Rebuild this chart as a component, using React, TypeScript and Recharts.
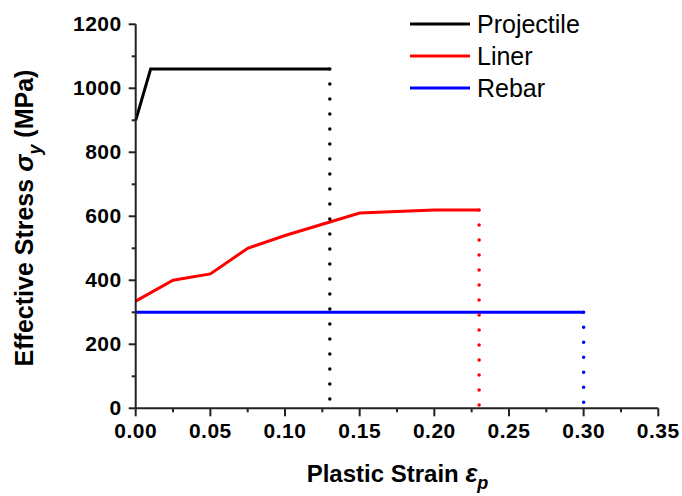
import { LineChart, Line, XAxis, YAxis } from 'recharts';

// ---------------------------------------------------------------------------
// Data
// ---------------------------------------------------------------------------

const projectileStrain = [0, 0.01, 0.13];
const projectileStress = [900, 1060, 1060];

const linerStrain = [0, 0.025, 0.05, 0.075, 0.1, 0.125, 0.15, 0.2, 0.23];
const linerStress = [335, 400, 420, 500, 540, 575, 610, 620, 620];

const rebarStrain = [0, 0.3];
const rebarStress = [300, 300];

// failure strain of each material (dotted drop to zero)
const failureStrain = [0.13, 0.23, 0.3];
const failureStress = [1060, 620, 300];

const seriesNames = ['Projectile', 'Liner', 'Rebar'];
const seriesColors = ['#000000', '#ff0000', '#0000ff'];

const xTicks = [0, 0.025, 0.05, 0.075, 0.1, 0.125, 0.15, 0.175, 0.2, 0.225, 0.25, 0.275, 0.3, 0.325, 0.35];
const yTicks = [0, 100, 200, 300, 400, 500, 600, 700, 800, 900, 1000, 1100, 1200];

const FONT = '"Liberation Sans", Arial, sans-serif';
const AXIS_COLOR = '#222222';

const toPoints = (xs: number[], ys: number[]) => xs.map((x, i) => ({ x, y: ys[i] }));

const solidSeries = [
  toPoints(projectileStrain, projectileStress),
  toPoints(linerStrain, linerStress),
  toPoints(rebarStrain, rebarStress),
];

const dropSeries = failureStrain.map((s, i) => [
  { x: s, y: failureStress[i] },
  { x: s, y: 0 },
]);

// ---------------------------------------------------------------------------
// Ticks with minor marks
// ---------------------------------------------------------------------------

function XTick({ x, y, payload, index }: any) {
  const major = index % 2 === 0;
  return (
    <g>
      <line x1={x} x2={x} y1={y} y2={y + (major ? 8 : 4)} stroke={AXIS_COLOR} strokeWidth={2} />
      {major && (
        <text
          x={x}
          y={y + 30}
          textAnchor="middle"
          fontFamily={FONT}
          fontWeight="bold"
          fontSize={21}
          letterSpacing={0.5}
          fill="#000"
        >
          {Number(payload.value).toFixed(2)}
        </text>
      )}
    </g>
  );
}

function YTick({ x, y, payload }: any) {
  const major = payload.value % 200 === 0;
  return (
    <g>
      <line x1={x - (major ? 7 : 4)} x2={x} y1={y} y2={y} stroke={AXIS_COLOR} strokeWidth={2} />
      {major && (
        <text
          x={x - 14}
          y={y + 7}
          textAnchor="end"
          fontFamily={FONT}
          fontWeight="bold"
          fontSize={21}
          letterSpacing={0.5}
          fill="#000"
        >
          {payload.value}
        </text>
      )}
    </g>
  );
}

function LegendBox() {
  return (
    <div
      style={{
        position: 'absolute',
        top: 8,
        left: 410,
        fontFamily: FONT,
        fontSize: 25,
        color: '#000',
      }}
    >
      {seriesNames.map((name, i) => (
        <div key={name} style={{ display: 'flex', alignItems: 'center', height: 32 }}>
          <svg width={60} height={4} style={{ display: 'block' }}>
            <line x1={0} x2={60} y1={2} y2={2} stroke={seriesColors[i]} strokeWidth={3} />
          </svg>
          <span style={{ marginLeft: 7, lineHeight: '32px' }}>{name}</span>
        </div>
      ))}
    </div>
  );
}

export default function App() {
  return (
    <div style={{ position: 'relative', width: 682, height: 496 }}>
      <style>{'body { margin: 0; overflow: hidden; }'}</style>
      <LineChart
        width={682}
        height={496}
        margin={{ top: 24.3, right: 23.7, left: 75.7, bottom: 47.7 }}
      >
        <XAxis
          dataKey="x"
          type="number"
          domain={[0, 0.35]}
          ticks={xTicks}
          interval={0}
          height={40}
          tickSize={0}
          tickMargin={0}
          tickLine={false}
          axisLine={{ stroke: AXIS_COLOR, strokeWidth: 2 }}
          tick={<XTick />}
          allowDuplicatedCategory={false}
          label={() => (
            <text
              x={397.5}
              y={482}
              textAnchor="middle"
              fontFamily={FONT}
              fontWeight="bold"
              fontSize={24}
              fill="#000"
            >
              Plastic Strain{' '}
              <tspan fontStyle="italic" fontSize={25}>ε</tspan>
              <tspan fontStyle="italic" fontSize={18} dy={7}>p</tspan>
            </text>
          )}
        />
        <YAxis
          dataKey="y"
          type="number"
          domain={[0, 1200]}
          ticks={yTicks}
          interval={0}
          width={60}
          tickSize={0}
          tickMargin={0}
          tickLine={false}
          axisLine={{ stroke: AXIS_COLOR, strokeWidth: 2 }}
          tick={<YTick />}
          label={() => (
            <text
              transform="translate(33, 218) rotate(-90)"
              textAnchor="middle"
              fontFamily={FONT}
              fontWeight="bold"
              fontSize={25}
              fill="#000"
            >
              Effective Stress{' '}
              <tspan fontStyle="italic" fontSize={26}>σ</tspan>
              <tspan fontStyle="italic" fontSize={18} dy={8}>y</tspan>
              <tspan dy={-8}> (MPa)</tspan>
            </text>
          )}
        />
        {solidSeries.map((pts, i) => (
          <Line
            key={seriesNames[i]}
            data={pts}
            dataKey="y"
            name={seriesNames[i]}
            type="linear"
            stroke={seriesColors[i]}
            strokeWidth={3}
            dot={false}
            activeDot={false}
            isAnimationActive={false}
          />
        ))}
        {dropSeries.map((pts, i) => (
          <Line
            key={`drop-${seriesNames[i]}`}
            data={pts}
            dataKey="y"
            name={`${seriesNames[i]} failure`}
            legendType="none"
            type="linear"
            stroke={seriesColors[i]}
            strokeWidth={3.5}
            strokeDasharray="0 15"
            strokeLinecap="round"
            dot={false}
            activeDot={false}
            isAnimationActive={false}
          />
        ))}
      </LineChart>
      <LegendBox />
    </div>
  );
}
